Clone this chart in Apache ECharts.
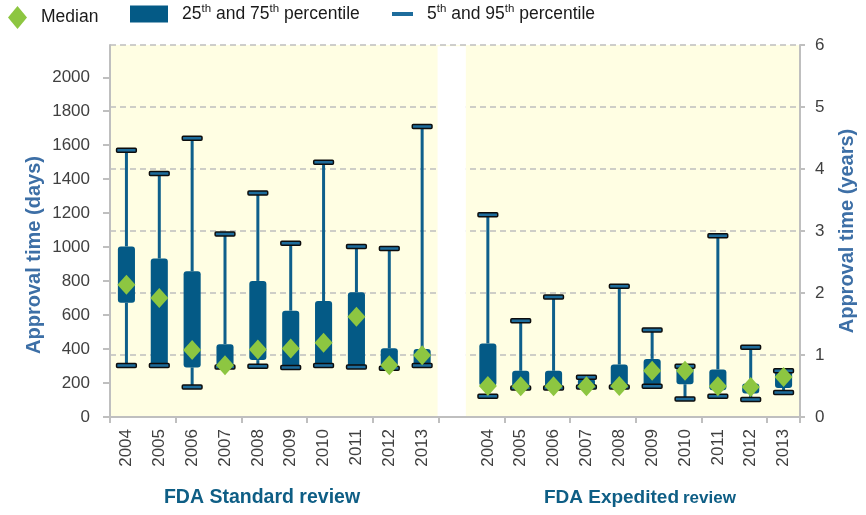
<!DOCTYPE html>
<html>
<head>
<meta charset="utf-8">
<script src="https://cdn.jsdelivr.net/npm/echarts@6/dist/echarts.min.js"></script>
<style>
html,body{margin:0;padding:0;background:#fff;}
#chart{width:866px;height:515px;}
</style>
</head>
<body>
<div id="chart"></div>
<script>
// ---- Data (days) ----
const standardYears = ['2004','2005','2006','2007','2008','2009','2010','2011','2012','2013'];
const expeditedYears = ['2004','2005','2006','2007','2008','2009','2010','2011','2012','2013'];

const stdP5  = [303, 303, 177, 295, 299, 291, 303, 295, 287, 303];
const stdP25 = [673, 303, 292, 295, 335, 291, 303, 295, 287, 303];
const stdMed = [779, 701, 394, 305, 398, 404, 437, 590, 305, 364];
const stdP75 = [1004, 933, 858, 429, 801, 626, 683, 734, 405, 400];
const stdP95 = [1570, 1433, 1641, 1078, 1319, 1023, 1500, 1004, 992, 1710];

const expP5  = [122, 171, 171, 177, 177, 181, 106, 122, 103, 144];
const expP25 = [183, 171, 171, 177, 177, 181, 193, 158, 138, 171];
const expMed = [183, 181, 181, 181, 183, 272, 272, 181, 177, 236];
const expP75 = [433, 272, 272, 226, 309, 342, 299, 280, 197, 272];
const expP95 = [1191, 567, 707, 234, 770, 512, 299, 1067, 411, 272];

const dayTicks = [0, 200, 400, 600, 800, 1000, 1200, 1400, 1600, 1800, 2000];
const daysMax = 2190;  // 6 years
const yearsMax = 6;

// ---- Build ----
const categories = [
  ...standardYears.map(y => 'S' + y),
  'gap',
  ...expeditedYears.map(y => 'E' + y)
];
const expOffset = standardYears.length + 1;

const boxData = [], whiskerData = [], medianData = [];
standardYears.forEach((y, i) => {
  boxData.push([i, stdP25[i], stdP75[i]]);
  whiskerData.push([i, stdP5[i], stdP25[i], stdP75[i], stdP95[i]]);
  medianData.push([i, stdMed[i]]);
});
expeditedYears.forEach((y, i) => {
  const c = expOffset + i;
  boxData.push([c, expP25[i], expP75[i]]);
  whiskerData.push([c, expP5[i], expP25[i], expP75[i], expP95[i]]);
  medianData.push([c, expMed[i]]);
});

const FONT = "'Liberation Sans', Arial, sans-serif";
const BOX = '#045a86';
const WHISK = '#0e5f8b';
const CAP = '#1d6c9c';
const GREEN = '#8dc641';
const AXIS = '#bfbfbf';
const LABEL = '#404040';
const TITLE_BLUE = '#3d6fa6';
const TEAL = '#0e5e85';
const LEG = '#1a1a1a';

const chart = echarts.init(document.getElementById('chart'), null, {renderer: 'canvas'});

const richLegend = {fontFamily: FONT, fontSize: 17.5, color: LEG, padding: [0, 0, 0, 9],
  rich: {
    n: {fontFamily: FONT, fontSize: 17.5, color: LEG, lineHeight: 22},
    s: {fontFamily: FONT, fontSize: 11.5, color: LEG, verticalAlign: 'top', lineHeight: 11}
  }};

const option = {
  animation: false,
  backgroundColor: '#ffffff',
  grid: {left: 110, right: 66, top: 45, bottom: 98, show: true, backgroundColor: '#fffee3', borderWidth: 0,
    containLabel: false, outerBoundsMode: 'none'},
  legend: [
    {data: ['Median'], left: 8, top: 6, padding: 0, icon: 'diamond', itemWidth: 19, itemHeight: 23,
     textStyle: {fontFamily: FONT, fontSize: 17.5, color: LEG, padding: [0, 0, 0, 9]}, selectedMode: false},
    {data: ['25th and 75th percentile'], left: 130, top: 3, padding: 0, icon: 'rect', itemWidth: 38, itemHeight: 17,
     textStyle: richLegend, selectedMode: false,
     formatter: () => '{n|25}{s|th}{n| and 75}{s|th}{n| percentile}'},
    {data: ['5th and 95th percentile'], left: 392, top: 3, padding: 0, icon: 'rect', itemWidth: 21, itemHeight: 4,
     textStyle: richLegend, selectedMode: false,
     formatter: () => '{n|5}{s|th}{n| and 95}{s|th}{n| percentile}'}
  ],
  xAxis: [
    {type: 'category', data: categories, boundaryGap: true,
     axisLine: {lineStyle: {color: AXIS, width: 2}},
     axisTick: {show: true, length: 6, lineStyle: {color: AXIS, width: 2},
       interval: (idx) => idx % 2 === 0, alignWithLabel: false},
     axisLabel: {interval: 0, rotate: 90, margin: 12, fontFamily: FONT, fontSize: 17, color: LABEL,
       formatter: (v) => v === 'gap' ? '' : v.slice(1)},
     splitLine: {show: false}},
    {type: 'value', min: 0, max: 21, show: false}
  ],
  yAxis: [
    {type: 'value', min: 0, max: daysMax, position: 'left',
     name: 'Approval time (days)', nameLocation: 'middle', nameGap: 66, nameRotate: 90, nameMoveOverlap: false,
     nameTextStyle: {fontFamily: FONT, fontSize: 20, fontWeight: 'bold', color: TITLE_BLUE, padding: [0, 48, 0, 0]},
     axisLine: {show: true, lineStyle: {color: AXIS, width: 2}},
     axisTick: {show: true, length: 7, customValues: dayTicks, lineStyle: {color: AXIS, width: 2}},
     axisLabel: {customValues: dayTicks, margin: 20, fontFamily: FONT, fontSize: 17, color: LABEL,
       formatter: (v) => String(v)},
     splitLine: {show: false}},
    {type: 'value', min: 0, max: yearsMax, interval: 1, position: 'right',
     name: 'Approval time (years)', nameLocation: 'middle', nameGap: 37, nameRotate: 90, nameMoveOverlap: false,
     nameTextStyle: {fontFamily: FONT, fontSize: 20, fontWeight: 'bold', color: TITLE_BLUE},
     axisLine: {show: true, lineStyle: {color: AXIS, width: 2}},
     axisTick: {show: true, length: 5, lineStyle: {color: AXIS, width: 2}},
     axisLabel: {margin: 15, fontFamily: FONT, fontSize: 17, color: LABEL},
     splitLine: {show: true, showMinLine: false, lineStyle: {color: AXIS, width: 1.5, type: [6, 4]}}}
  ],
  graphic: [
    {type: 'text', x: 262, y: 498, z: 10,
     style: {text: 'FDA Standard review', fill: TEAL, font: 'bold 19.5px ' + FONT, align: 'center', verticalAlign: 'middle'}},
    {type: 'text', x: 679, y: 507, z: 10,
     style: {text: 'FDA Expedited', fill: TEAL, font: 'bold 19px ' + FONT, align: 'right', verticalAlign: 'bottom'}},
    {type: 'text', x: 683, y: 507, z: 10,
     style: {text: 'review', fill: TEAL, font: 'bold 17px ' + FONT, align: 'left', verticalAlign: 'bottom'}}
  ],
  series: [
    {type: 'line', name: 'gapArea', xAxisIndex: 1, yAxisIndex: 0, data: [], silent: true,
     markArea: {silent: true, itemStyle: {color: '#ffffff'},
       data: [[{coord: [9.97, 6]}, {coord: [10.83, 2183]}]]}},
    {type: 'custom', name: '25th and 75th percentile', xAxisIndex: 0, yAxisIndex: 0, z: 2,
     itemStyle: {color: BOX}, data: boxData, encode: {x: 0, y: [1, 2]},
     renderItem: function (params, api) {
       const c = api.value(0);
       const top = api.coord([c, api.value(2)]);
       const bot = api.coord([c, api.value(1)]);
       const bw = api.size([1, 0])[0] * 0.52;
       return {type: 'rect', shape: {x: top[0] - bw / 2, y: top[1], width: bw, height: Math.max(bot[1] - top[1], 1), r: 3},
         style: {fill: BOX}};
     }},
    {type: 'custom', name: '5th and 95th percentile', xAxisIndex: 0, yAxisIndex: 0, z: 3,
     itemStyle: {color: CAP}, data: whiskerData, encode: {x: 0, y: [1, 2, 3, 4]},
     renderItem: function (params, api) {
       const c = api.value(0);
       const p5 = api.coord([c, api.value(1)]);
       const p25 = api.coord([c, api.value(2)]);
       const p75 = api.coord([c, api.value(3)]);
       const p95 = api.coord([c, api.value(4)]);
       const x = p5[0];
       const cw = api.size([1, 0])[0] * 0.6;
       const ch = 4;
       const cap = (y) => ({type: 'rect', shape: {x: x - cw / 2, y: y - ch / 2, width: cw, height: ch, r: 1},
         style: {fill: CAP, stroke: '#0d0d0d', lineWidth: 1.5}});
       return {type: 'group', children: [
         {type: 'line', shape: {x1: x, y1: p75[1], x2: x, y2: p95[1]}, style: {stroke: WHISK, lineWidth: 3}},
         {type: 'line', shape: {x1: x, y1: p5[1], x2: x, y2: p25[1]}, style: {stroke: WHISK, lineWidth: 3}},
         cap(p95[1]), cap(p5[1])
       ]};
     }},
    {type: 'scatter', name: 'Median', xAxisIndex: 0, yAxisIndex: 0, z: 4,
     symbol: 'diamond', symbolSize: [18, 20], itemStyle: {color: GREEN, opacity: 1},
     data: medianData}
  ]
};
chart.setOption(option);
</script>
</body>
</html>
